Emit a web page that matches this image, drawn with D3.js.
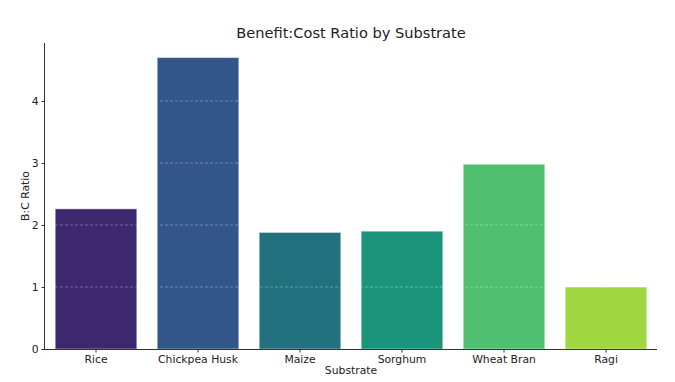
<!DOCTYPE html>
<html><head><meta charset="utf-8">
<script src="https://cdn.jsdelivr.net/npm/d3@7"></script>
<style>body{margin:0;background:#fff}svg{display:block;font-family:"DejaVu Sans",sans-serif}</style>
</head><body><svg id="c" width="675" height="382"></svg>
<script>
const categories = ["Rice","Chickpea Husk","Maize","Sorghum","Wheat Bran","Ragi"];
const values = [2.26, 4.70, 1.88, 1.90, 2.98, 1.00];
const colors = ["#3d2870","#33568a","#22717f","#1a947b","#50bf70","#a0d63f"];
const yTicks = [0,1,2,3,4];

const svg = d3.select("#c");
const m = {l:45, r:18, t:43, b:33};
const W = 675, H = 382;
const x = d3.scaleBand().domain(categories).range([m.l, W-m.r]).paddingInner(0.2).paddingOuter(0.1);
const y = d3.scaleLinear().domain([0, d3.max(values)*1.05]).range([H-m.b, m.t]);

svg.selectAll("rect.bar").data(categories).join("rect")
  .attr("class","bar")
  .attr("x", d=>x(d)).attr("width", x.bandwidth())
  .attr("y", (d,i)=>y(values[i])).attr("height", (d,i)=>y(0)-y(values[i]))
  .attr("fill", (d,i)=>colors[i])
  .attr("stroke","#fff").attr("stroke-opacity",0.45).attr("stroke-width",1);

svg.append("g").selectAll("line").data(yTicks.slice(1)).join("line")
  .attr("x1", m.l).attr("x2", W-m.r)
  .attr("y1", d=>y(d)).attr("y2", d=>y(d))
  .attr("stroke","#fff").attr("stroke-opacity",0.3).attr("stroke-dasharray","3,2").attr("stroke-width",1);

const gx = svg.append("g").attr("transform",`translate(0,${y(0)})`)
  .call(d3.axisBottom(x).tickSize(3.5).tickPadding(3));
gx.select(".domain").attr("stroke","#333").attr("d", `M${m.l},0.5H${W-m.r}`);
gx.selectAll(".tick line").attr("stroke","#333");
gx.selectAll("text").attr("font-size",10.8).attr("fill","#222").attr("font-family","DejaVu Sans");

const gy = svg.append("g").attr("transform",`translate(${m.l},0)`)
  .call(d3.axisLeft(y).tickValues(yTicks).tickFormat(d3.format("d")).tickSize(3.5).tickPadding(3));
gy.select(".domain").attr("stroke","#333").attr("d", `M-0.5,${y(0)}V${m.t}`);
gy.selectAll(".tick line").attr("stroke","#333");
gy.selectAll("text").attr("font-size",10.8).attr("fill","#222").attr("font-family","DejaVu Sans");

svg.append("text").attr("x", (m.l+W-m.r)/2).attr("y", 38).attr("text-anchor","middle")
  .attr("font-size",14.6).attr("fill","#222").text("Benefit:Cost Ratio by Substrate");
svg.append("text").attr("x", (m.l+W-m.r)/2).attr("y", 374).attr("text-anchor","middle")
  .attr("font-size",10.8).attr("fill","#222").text("Substrate");
svg.append("text").attr("transform",`translate(29,${(m.t+H-m.b)/2}) rotate(-90)`).attr("text-anchor","middle")
  .attr("font-size",10.8).attr("fill","#222").text("B:C Ratio");
</script></body></html>
